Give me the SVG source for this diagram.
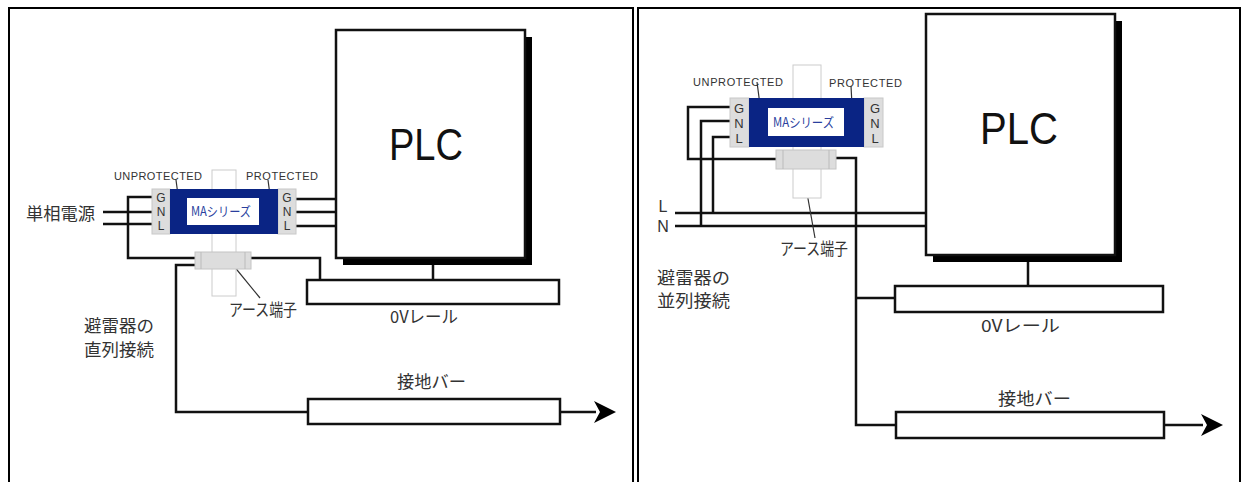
<svg xmlns="http://www.w3.org/2000/svg" width="1246" height="482" viewBox="0 0 1246 482">
<defs>
<marker id="arrow" markerUnits="userSpaceOnUse" markerWidth="24" markerHeight="24" refX="2" refY="12" orient="auto"><path d="M0 1L22 12L0 23L6 12Z" fill="#000"/></marker>
</defs>
<style>
text{font-family:"Liberation Sans","Noto Sans CJK JP",sans-serif;fill:#222}
.j{font-family:"Noto Sans CJK JP",sans-serif;font-size:17px;fill:#333}
.s{font-size:11px;fill:#333}
.t{font-size:12px;text-anchor:middle;fill:#333}
.u{font-size:13px;text-anchor:middle;fill:#333}
.n{font-size:16px;text-anchor:middle;fill:#333}
.plc{font-size:45px;fill:#111}
.w{fill:none;stroke:#111;stroke-width:2.5}
.thin{fill:none;stroke:#333;stroke-width:1.2}
.box{fill:#fff;stroke:#111;stroke-width:2.5}
.term{fill:#ddd;stroke:#c8c8c8;stroke-width:1}
.rail{fill:#fff;stroke:#ccc;stroke-width:1}
.earth{fill:#ddd;stroke:#c4c4c4;stroke-width:1}
.blue{fill:#0a2484}
.name{font-size:13px;font-family:"Noto Sans CJK JP",sans-serif;fill:#2a3f9e}
</style>
<rect width="1246" height="482" fill="#fff"/>
<path d="M9 482V8H633V482M638 482V8H1240V482" fill="none" stroke="#000" stroke-width="2"/>
<g id="connectors">
<path class="w" d="M152 197H128V258H195M103 212H152M103 224H152M296 199H336M296 212H336M296 226H336M251 258H320V280M195 265H176V412H307M433 262V280"/>
<path class="w" d="M561 412H596" marker-end="url(#arrow)"/>
<path class="thin" d="M233 265L260 298M176 180L178 195M268 180L270 195"/>
<path class="w" d="M730 107H688V159H776M730 121H701V226M730 137H713V213M675 213H926M675 226H926M836 158H856V425H896M856 298H895M1028 262V286"/>
<path class="w" d="M1164 425H1203" marker-end="url(#arrow)"/>
<path class="thin" d="M802 165L815 238M757 82L760 105M851 86L852 105"/>
</g>
<g id="left-plc"><rect x="343" y="37" width="189" height="228" fill="#000"/><rect class="box" x="336" y="30" width="189" height="228"/><text class="plc" x="389" y="160" textLength="74" lengthAdjust="spacingAndGlyphs">PLC</text></g>
<g id="left-device">
<rect class="rail" x="212" y="170" width="24" height="126"/>
<rect class="term" x="152" y="189" width="18" height="45"/><rect class="term" x="278" y="189" width="18" height="45"/>
<rect class="blue" x="170" y="189" width="108" height="45"/><rect x="187" y="198" width="72" height="27" fill="#fff"/>
<text class="name" x="191" y="216" textLength="60" lengthAdjust="spacingAndGlyphs">MAシリーズ</text>
<text class="s" x="114" y="180" textLength="88">UNPROTECTED</text><text class="s" x="246" y="180" textLength="72">PROTECTED</text>
<text class="t" x="161" y="202">G</text><text class="t" x="161" y="216">N</text><text class="t" x="161" y="230">L</text>
<text class="t" x="287" y="202">G</text><text class="t" x="287" y="216">N</text><text class="t" x="287" y="230">L</text>
<rect class="earth" x="195" y="252" width="56" height="17"/><path d="M201 252V269M245 252V269" stroke="#bbb" fill="none"/>
</g>
<g id="left-rail"><rect class="box" x="307" y="280" width="252" height="24"/><text class="j" x="390" y="323" textLength="68" lengthAdjust="spacingAndGlyphs">0Vレール</text></g>
<g id="left-bar"><rect class="box" x="308" y="399" width="252" height="25"/><text class="j" x="397" y="388" textLength="69" lengthAdjust="spacingAndGlyphs">接地バー</text></g>
<g id="left-labels">
<text class="j" x="26" y="220" textLength="69" lengthAdjust="spacingAndGlyphs">単相電源</text>
<text class="j" x="229" y="316" textLength="68" lengthAdjust="spacingAndGlyphs">アース端子</text>
<text class="j" x="84" y="332" textLength="70" lengthAdjust="spacingAndGlyphs">避雷器の</text><text class="j" x="84" y="356" textLength="70" lengthAdjust="spacingAndGlyphs">直列接続</text>
</g>
<g id="right-plc"><rect x="933" y="21" width="189" height="241" fill="#000"/><rect class="box" x="926" y="14" width="189" height="241"/><text class="plc" x="980" y="144" textLength="78" lengthAdjust="spacingAndGlyphs">PLC</text></g>
<g id="right-device">
<rect class="rail" x="793" y="65" width="28" height="133"/>
<rect class="term" x="730" y="98" width="19" height="49"/><rect class="term" x="864" y="98" width="19" height="49"/>
<rect class="blue" x="749" y="98" width="115" height="49"/><rect x="768" y="108" width="76" height="28" fill="#fff"/>
<text class="name" x="773" y="127" textLength="61" lengthAdjust="spacingAndGlyphs">MAシリーズ</text>
<text class="s" x="693" y="86" textLength="90">UNPROTECTED</text><text class="s" x="829" y="87" textLength="73">PROTECTED</text>
<text class="u" x="739" y="113">G</text><text class="u" x="739" y="128">N</text><text class="u" x="739" y="143">L</text>
<text class="u" x="875" y="113">G</text><text class="u" x="875" y="128">N</text><text class="u" x="875" y="143">L</text>
<rect class="earth" x="776" y="150" width="60" height="19"/><path d="M783 150V169M829 150V169" stroke="#bbb" fill="none"/>
</g>
<g id="right-rail"><rect class="box" x="895" y="286" width="268" height="26"/><text class="j" x="981" y="332" textLength="79" lengthAdjust="spacingAndGlyphs">0Vレール</text></g>
<g id="right-bar"><rect class="box" x="896" y="412" width="268" height="26"/><text class="j" x="998" y="405" textLength="73" lengthAdjust="spacingAndGlyphs">接地バー</text></g>
<g id="right-labels">
<text class="n" x="663" y="212">L</text><text class="n" x="663" y="232">N</text>
<text class="j" x="780" y="255" textLength="68" lengthAdjust="spacingAndGlyphs">アース端子</text>
<text class="j" x="657" y="284" textLength="73" lengthAdjust="spacingAndGlyphs">避雷器の</text><text class="j" x="657" y="307" textLength="73" lengthAdjust="spacingAndGlyphs">並列接続</text>
</g>
</svg>
